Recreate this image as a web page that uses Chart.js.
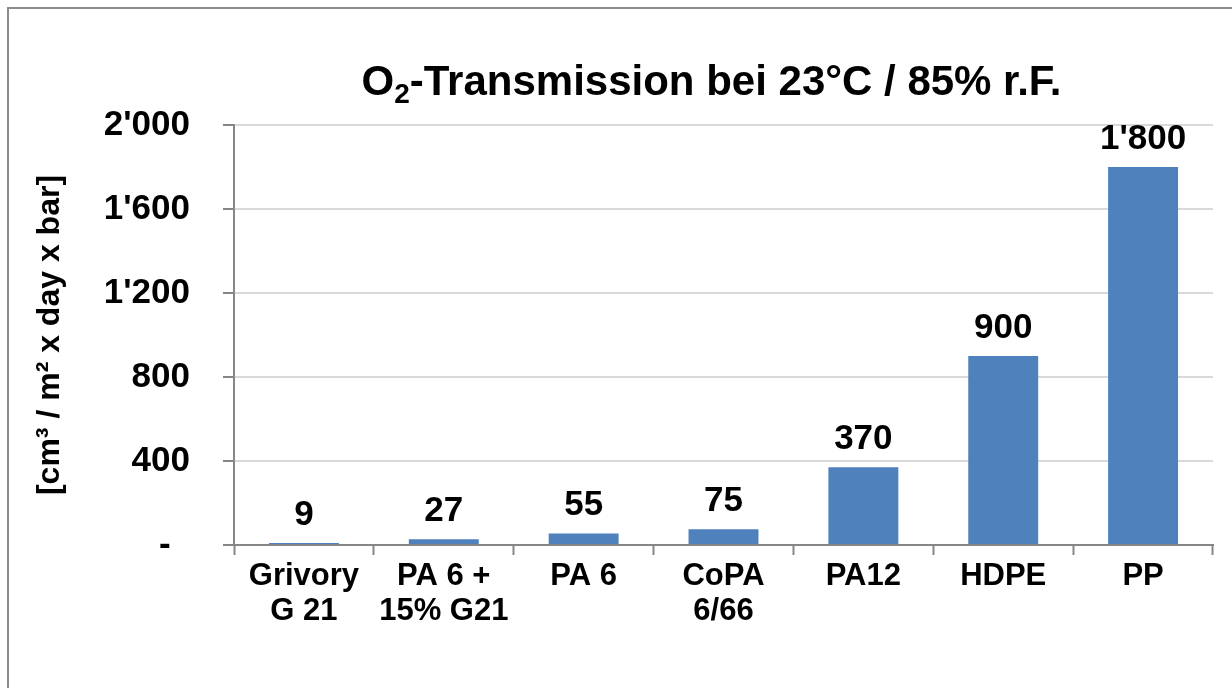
<!DOCTYPE html>
<html>
<head>
<meta charset="utf-8">
<script src="https://cdn.jsdelivr.net/npm/chart.js@4/dist/chart.umd.min.js"></script>
<style>
  html, body { margin: 0; padding: 0; background: #ffffff; width: 1232px; height: 688px; overflow: hidden; }
  #frame { position: absolute; left: 7px; top: 7px; width: 1300px; height: 800px;
           border-left: 2px solid #8c8c8c; border-top: 2px solid #8c8c8c; box-sizing: border-box; }
  #wrap { position: absolute; left: 0; top: 0; width: 1232px; height: 688px; }
</style>
</head>
<body>
<div id="frame"></div>
<div id="wrap"><canvas id="c" width="1232" height="688"></canvas></div>
<script>
// ---- data ----
const categories = [["Grivory", "G 21"], ["PA 6 +", "15% G21"], ["PA 6"], ["CoPA", "6/66"], ["PA12"], ["HDPE"], ["PP"]];
const o2Values = [9, 27, 55, 75, 370, 900, 1800];
const yTickValues = [0, 400, 800, 1200, 1600, 2000];
const yTickLabels = ["-  ", "400", "800", "1'200", "1'600", "2'000"];
// title pieces: main text, subscript, rest
const titleParts = ["O", "2", "-Transmission bei 23\u00B0C / 85% r.F."];
const yAxisTitle = "[cm\u00B3 / m\u00B2 x day x bar]";

const FONT = "'Liberation Sans', Arial, Helvetica, sans-serif";

function fmtThousands(v) {
  return String(v).replace(/\B(?=(\d{3})+(?!\d))/g, "'");
}

const dataLabelPlugin = {
  id: 'dataLabels',
  afterDatasetsDraw(chart) {
    const ctx = chart.ctx;
    const meta = chart.getDatasetMeta(0);
    ctx.save();
    ctx.font = "bold 35px " + FONT;
    ctx.fillStyle = '#000000';
    ctx.textAlign = 'center';
    ctx.textBaseline = 'alphabetic';
    meta.data.forEach((bar, i) => {
      ctx.fillText(fmtThousands(chart.data.datasets[0].data[i]), bar.x, bar.y - 18);
    });
    ctx.restore();
  }
};

// Title with a real subscript "2"
const subTitlePlugin = {
  id: 'subTitle',
  afterDraw(chart) {
    const ctx = chart.ctx;
    const big = "bold 42px " + FONT;
    const small = "bold 28px " + FONT;
    ctx.save();
    ctx.fillStyle = '#000000';
    ctx.textAlign = 'left';
    ctx.textBaseline = 'alphabetic';
    ctx.font = big;
    const w0 = ctx.measureText(titleParts[0]).width;
    const w2 = ctx.measureText(titleParts[2]).width;
    ctx.font = small;
    const w1 = ctx.measureText(titleParts[1]).width;
    const total = w0 + w1 + w2;
    const cx = (chart.chartArea.left + chart.chartArea.right) / 2 - 12;
    let x = cx - total / 2;
    const baseY = 95;
    ctx.font = big;
    ctx.fillText(titleParts[0], x, baseY);
    x += w0;
    ctx.font = small;
    ctx.fillText(titleParts[1], x, baseY + 8);
    x += w1;
    ctx.font = big;
    ctx.fillText(titleParts[2], x, baseY);
    ctx.restore();
  }
};

new Chart(document.getElementById('c'), {
  type: 'bar',
  data: {
    labels: categories,
    datasets: [{
      data: o2Values,
      backgroundColor: '#4F81BD',
      borderWidth: 0,
      barPercentage: 0.5,
      categoryPercentage: 1.0
    }]
  },
  options: {
    responsive: false,
    animation: false,
    devicePixelRatio: 1,
    layout: { padding: { left: 0, right: 19, top: 125, bottom: 0 } },
    plugins: {
      legend: { display: false },
      tooltip: { enabled: false },
      title: { display: false }
    },
    scales: {
      x: {
        grid: {
          display: true,
          offset: true,
          drawOnChartArea: false,
          drawTicks: true,
          tickLength: 10,
          tickWidth: 2,
          tickColor: '#868686',
          color: '#868686'
        },
        border: { display: true, color: '#868686', width: 2 },
        ticks: {
          color: '#000000',
          padding: 4,
          maxRotation: 0,
          autoSkip: false,
          font: { family: FONT, size: 31, weight: 'bold', lineHeight: 1.12 }
        },
        afterFit(scale) { scale.height = 143; }
      },
      y: {
        min: 0,
        max: 2000,
        afterBuildTicks(scale) {
          scale.ticks = yTickValues.map(v => ({ value: v }));
        },
        grid: {
          display: true,
          drawOnChartArea: true,
          drawTicks: true,
          tickLength: 11,
          lineWidth: 2,
          tickWidth: 2,
          color: '#d9d9d9',
          tickColor: '#868686'
        },
        border: { display: true, color: '#868686', width: 2 },
        ticks: {
          color: '#000000',
          padding: 33,
          font: { family: FONT, size: 35, weight: 'bold' },
          callback(value) {
            const idx = yTickValues.indexOf(value);
            return idx >= 0 ? yTickLabels[idx] : '';
          }
        },
        title: {
          display: true,
          text: yAxisTitle,
          color: '#000000',
          font: { family: FONT, size: 32, weight: 'bold', lineHeight: 1.2 },
          padding: { top: 31, bottom: 0 }
        },
        afterFit(scale) { scale.width = 234; }
      }
    }
  },
  plugins: [dataLabelPlugin, subTitlePlugin]
});
</script>
</body>
</html>
